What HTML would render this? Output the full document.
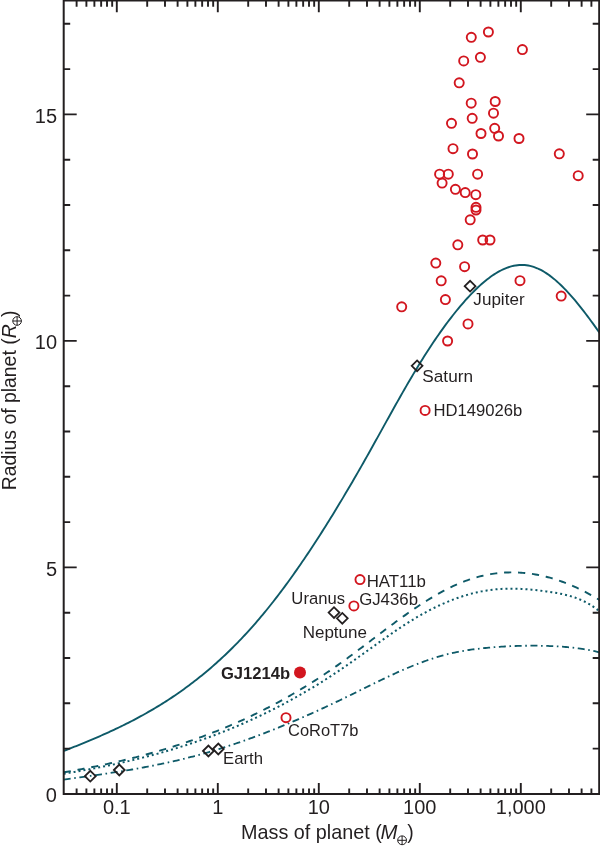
<!DOCTYPE html><html><head><meta charset="utf-8"><style>html,body{margin:0;padding:0;background:#fff}svg{display:block;will-change:transform}text{font-family:"Liberation Sans",sans-serif;fill:#231f20}</style></head><body>
<svg width="600" height="849" viewBox="0 0 600 849">
<rect width="600" height="849" fill="#fff"/>
<defs><clipPath id="c"><rect x="63.7" y="0" width="536.3" height="793.9"/></clipPath></defs>
<g clip-path="url(#c)" fill="none" stroke="#0e5a68">
<path d="M63.70,750.95 L65.49,750.25 L67.29,749.55 L69.08,748.85 L70.87,748.14 L72.67,747.43 L74.46,746.72 L76.26,746.01 L78.05,745.29 L79.84,744.56 L81.64,743.84 L83.43,743.10 L85.22,742.37 L87.02,741.63 L88.81,740.88 L90.60,740.13 L92.40,739.37 L94.19,738.61 L95.99,737.84 L97.78,737.07 L99.57,736.29 L101.37,735.50 L103.16,734.71 L104.95,733.91 L106.75,733.10 L108.54,732.29 L110.33,731.47 L112.13,730.64 L113.92,729.80 L115.72,728.96 L117.51,728.11 L119.30,727.25 L121.10,726.38 L122.89,725.50 L124.68,724.61 L126.48,723.72 L128.27,722.81 L130.06,721.90 L131.86,720.98 L133.65,720.04 L135.45,719.10 L137.24,718.15 L139.03,717.18 L140.83,716.21 L142.62,715.22 L144.41,714.23 L146.21,713.22 L148.00,712.20 L149.79,711.17 L151.59,710.13 L153.38,709.08 L155.18,708.01 L156.97,706.93 L158.76,705.84 L160.56,704.74 L162.35,703.62 L164.14,702.49 L165.94,701.35 L167.73,700.20 L169.53,699.03 L171.32,697.84 L173.11,696.64 L174.91,695.43 L176.70,694.21 L178.49,692.97 L180.29,691.71 L182.08,690.44 L183.87,689.15 L185.67,687.85 L187.46,686.53 L189.26,685.20 L191.05,683.85 L192.84,682.49 L194.64,681.11 L196.43,679.71 L198.22,678.30 L200.02,676.86 L201.81,675.41 L203.60,673.95 L205.40,672.47 L207.19,670.96 L208.99,669.45 L210.78,667.91 L212.57,666.35 L214.37,664.78 L216.16,663.19 L217.95,661.57 L219.75,659.94 L221.54,658.29 L223.33,656.62 L225.13,654.94 L226.92,653.23 L228.72,651.50 L230.51,649.75 L232.30,647.98 L234.10,646.19 L235.89,644.38 L237.68,642.55 L239.48,640.69 L241.27,638.82 L243.06,636.92 L244.86,635.01 L246.65,633.07 L248.45,631.10 L250.24,629.12 L252.03,627.11 L253.83,625.08 L255.62,623.03 L257.41,620.95 L259.21,618.86 L261.00,616.73 L262.79,614.59 L264.59,612.42 L266.38,610.23 L268.18,608.01 L269.97,605.77 L271.76,603.51 L273.56,601.23 L275.35,598.92 L277.14,596.60 L278.94,594.25 L280.73,591.88 L282.52,589.49 L284.32,587.08 L286.11,584.64 L287.91,582.19 L289.70,579.71 L291.49,577.22 L293.29,574.70 L295.08,572.17 L296.87,569.61 L298.67,567.04 L300.46,564.44 L302.25,561.83 L304.05,559.20 L305.84,556.55 L307.64,553.88 L309.43,551.19 L311.22,548.48 L313.02,545.76 L314.81,543.01 L316.60,540.25 L318.40,537.48 L320.19,534.68 L321.98,531.87 L323.78,529.04 L325.57,526.20 L327.37,523.34 L329.16,520.46 L330.95,517.56 L332.75,514.65 L334.54,511.73 L336.33,508.79 L338.13,505.83 L339.92,502.86 L341.72,499.87 L343.51,496.87 L345.30,493.86 L347.10,490.83 L348.89,487.78 L350.68,484.72 L352.48,481.65 L354.27,478.57 L356.06,475.47 L357.86,472.36 L359.65,469.23 L361.45,466.10 L363.24,462.95 L365.03,459.78 L366.83,456.61 L368.62,453.42 L370.41,450.22 L372.21,447.01 L374.00,443.80 L375.79,440.57 L377.59,437.34 L379.38,434.11 L381.18,430.87 L382.97,427.63 L384.76,424.39 L386.56,421.16 L388.35,417.92 L390.14,414.70 L391.94,411.48 L393.73,408.26 L395.52,405.06 L397.32,401.87 L399.11,398.69 L400.91,395.52 L402.70,392.37 L404.49,389.24 L406.29,386.12 L408.08,383.03 L409.87,379.96 L411.67,376.91 L413.46,373.88 L415.25,370.89 L417.05,367.92 L418.84,364.97 L420.64,362.06 L422.43,359.18 L424.22,356.33 L426.02,353.51 L427.81,350.73 L429.60,347.97 L431.40,345.25 L433.19,342.56 L434.98,339.90 L436.78,337.27 L438.57,334.68 L440.37,332.13 L442.16,329.61 L443.95,327.12 L445.75,324.68 L447.54,322.26 L449.33,319.89 L451.13,317.55 L452.92,315.25 L454.71,312.99 L456.51,310.76 L458.30,308.58 L460.10,306.43 L461.89,304.32 L463.68,302.26 L465.48,300.23 L467.27,298.25 L469.06,296.31 L470.86,294.41 L472.65,292.56 L474.44,290.75 L476.24,288.99 L478.03,287.29 L479.83,285.63 L481.62,284.02 L483.41,282.47 L485.21,280.98 L487.00,279.54 L488.79,278.16 L490.59,276.84 L492.38,275.58 L494.17,274.38 L495.97,273.25 L497.76,272.18 L499.56,271.18 L501.35,270.25 L503.14,269.39 L504.94,268.60 L506.73,267.88 L508.52,267.24 L510.32,266.67 L512.11,266.18 L513.91,265.77 L515.70,265.44 L517.49,265.20 L519.29,265.03 L521.08,264.95 L522.87,264.96 L524.67,265.05 L526.46,265.23 L528.25,265.51 L530.05,265.87 L531.84,266.33 L533.64,266.88 L535.43,267.52 L537.22,268.25 L539.02,269.06 L540.81,269.96 L542.60,270.93 L544.40,271.99 L546.19,273.13 L547.98,274.34 L549.78,275.62 L551.57,276.98 L553.37,278.40 L555.16,279.89 L556.95,281.45 L558.75,283.08 L560.54,284.76 L562.33,286.51 L564.13,288.31 L565.92,290.17 L567.71,292.08 L569.51,294.04 L571.30,296.06 L573.10,298.12 L574.89,300.23 L576.68,302.38 L578.48,304.58 L580.27,306.81 L582.06,309.08 L583.86,311.39 L585.65,313.73 L587.44,316.11 L589.24,318.52 L591.03,320.95 L592.83,323.41 L594.62,325.89 L596.41,328.40 L598.21,330.93 L600.00,333.47" stroke-width="1.9"/>
<path d="M63.70,772.30 L65.49,772.00 L67.29,771.69 L69.08,771.38 L70.87,771.07 L72.67,770.75 L74.46,770.43 L76.26,770.11 L78.05,769.78 L79.84,769.45 L81.64,769.12 L83.43,768.78 L85.22,768.44 L87.02,768.10 L88.81,767.75 L90.60,767.40 L92.40,767.04 L94.19,766.69 L95.99,766.32 L97.78,765.96 L99.57,765.59 L101.37,765.22 L103.16,764.84 L104.95,764.46 L106.75,764.07 L108.54,763.68 L110.33,763.29 L112.13,762.89 L113.92,762.49 L115.72,762.08 L117.51,761.67 L119.30,761.26 L121.10,760.84 L122.89,760.42 L124.68,759.99 L126.48,759.56 L128.27,759.12 L130.06,758.68 L131.86,758.23 L133.65,757.78 L135.45,757.33 L137.24,756.87 L139.03,756.40 L140.83,755.93 L142.62,755.46 L144.41,754.98 L146.21,754.49 L148.00,754.00 L149.79,753.51 L151.59,753.01 L153.38,752.50 L155.18,751.99 L156.97,751.48 L158.76,750.96 L160.56,750.43 L162.35,749.90 L164.14,749.37 L165.94,748.82 L167.73,748.28 L169.53,747.72 L171.32,747.16 L173.11,746.60 L174.91,746.03 L176.70,745.46 L178.49,744.87 L180.29,744.29 L182.08,743.69 L183.87,743.10 L185.67,742.49 L187.46,741.88 L189.26,741.26 L191.05,740.64 L192.84,740.01 L194.64,739.38 L196.43,738.74 L198.22,738.09 L200.02,737.44 L201.81,736.78 L203.60,736.11 L205.40,735.44 L207.19,734.76 L208.99,734.07 L210.78,733.38 L212.57,732.68 L214.37,731.98 L216.16,731.26 L217.95,730.54 L219.75,729.82 L221.54,729.09 L223.33,728.35 L225.13,727.60 L226.92,726.85 L228.72,726.09 L230.51,725.32 L232.30,724.55 L234.10,723.77 L235.89,722.98 L237.68,722.19 L239.48,721.38 L241.27,720.57 L243.06,719.76 L244.86,718.93 L246.65,718.10 L248.45,717.26 L250.24,716.41 L252.03,715.56 L253.83,714.70 L255.62,713.83 L257.41,712.95 L259.21,712.07 L261.00,711.17 L262.79,710.27 L264.59,709.37 L266.38,708.45 L268.18,707.53 L269.97,706.59 L271.76,705.65 L273.56,704.71 L275.35,703.75 L277.14,702.79 L278.94,701.81 L280.73,700.83 L282.52,699.85 L284.32,698.85 L286.11,697.84 L287.91,696.83 L289.70,695.81 L291.49,694.78 L293.29,693.74 L295.08,692.69 L296.87,691.63 L298.67,690.57 L300.46,689.49 L302.25,688.41 L304.05,687.32 L305.84,686.22 L307.64,685.11 L309.43,683.99 L311.22,682.87 L313.02,681.73 L314.81,680.59 L316.60,679.43 L318.40,678.27 L320.19,677.10 L321.98,675.91 L323.78,674.72 L325.57,673.52 L327.37,672.31 L329.16,671.10 L330.95,669.87 L332.75,668.63 L334.54,667.38 L336.33,666.13 L338.13,664.86 L339.92,663.58 L341.72,662.30 L343.51,661.01 L345.30,659.70 L347.10,658.40 L348.89,657.08 L350.68,655.76 L352.48,654.43 L354.27,653.10 L356.06,651.76 L357.86,650.42 L359.65,649.07 L361.45,647.72 L363.24,646.37 L365.03,645.01 L366.83,643.65 L368.62,642.30 L370.41,640.94 L372.21,639.58 L374.00,638.22 L375.79,636.86 L377.59,635.50 L379.38,634.15 L381.18,632.79 L382.97,631.44 L384.76,630.09 L386.56,628.75 L388.35,627.41 L390.14,626.07 L391.94,624.74 L393.73,623.42 L395.52,622.10 L397.32,620.79 L399.11,619.48 L400.91,618.19 L402.70,616.90 L404.49,615.62 L406.29,614.35 L408.08,613.09 L409.87,611.84 L411.67,610.60 L413.46,609.37 L415.25,608.15 L417.05,606.95 L418.84,605.76 L420.64,604.58 L422.43,603.42 L424.22,602.27 L426.02,601.13 L427.81,600.01 L429.60,598.91 L431.40,597.82 L433.19,596.75 L434.98,595.70 L436.78,594.66 L438.57,593.64 L440.37,592.64 L442.16,591.66 L443.95,590.71 L445.75,589.77 L447.54,588.85 L449.33,587.95 L451.13,587.08 L452.92,586.23 L454.71,585.40 L456.51,584.59 L458.30,583.81 L460.10,583.05 L461.89,582.32 L463.68,581.61 L465.48,580.93 L467.27,580.27 L469.06,579.65 L470.86,579.04 L472.65,578.47 L474.44,577.92 L476.24,577.40 L478.03,576.90 L479.83,576.43 L481.62,575.99 L483.41,575.57 L485.21,575.18 L487.00,574.82 L488.79,574.48 L490.59,574.17 L492.38,573.88 L494.17,573.61 L495.97,573.38 L497.76,573.17 L499.56,572.98 L501.35,572.82 L503.14,572.68 L504.94,572.57 L506.73,572.49 L508.52,572.43 L510.32,572.39 L512.11,572.38 L513.91,572.39 L515.70,572.43 L517.49,572.49 L519.29,572.58 L521.08,572.69 L522.87,572.83 L524.67,572.99 L526.46,573.17 L528.25,573.38 L530.05,573.61 L531.84,573.86 L533.64,574.14 L535.43,574.44 L537.22,574.77 L539.02,575.12 L540.81,575.49 L542.60,575.89 L544.40,576.31 L546.19,576.75 L547.98,577.22 L549.78,577.70 L551.57,578.21 L553.37,578.75 L555.16,579.31 L556.95,579.88 L558.75,580.49 L560.54,581.11 L562.33,581.76 L564.13,582.43 L565.92,583.12 L567.71,583.83 L569.51,584.56 L571.30,585.32 L573.10,586.10 L574.89,586.90 L576.68,587.72 L578.48,588.57 L580.27,589.43 L582.06,590.32 L583.86,591.23 L585.65,592.16 L587.44,593.11 L589.24,594.08 L591.03,595.07 L592.83,596.08 L594.62,597.12 L596.41,598.17 L598.21,599.25 L600.00,600.35" stroke-width="1.9" stroke-dasharray="7.2 6.8"/>
<path d="M63.70,773.69 L65.49,773.40 L67.29,773.11 L69.08,772.82 L70.87,772.52 L72.67,772.22 L74.46,771.92 L76.26,771.61 L78.05,771.30 L79.84,770.99 L81.64,770.67 L83.43,770.35 L85.22,770.03 L87.02,769.70 L88.81,769.37 L90.60,769.04 L92.40,768.70 L94.19,768.36 L95.99,768.02 L97.78,767.67 L99.57,767.32 L101.37,766.96 L103.16,766.60 L104.95,766.24 L106.75,765.87 L108.54,765.50 L110.33,765.13 L112.13,764.75 L113.92,764.36 L115.72,763.98 L117.51,763.59 L119.30,763.19 L121.10,762.79 L122.89,762.39 L124.68,761.98 L126.48,761.56 L128.27,761.15 L130.06,760.73 L131.86,760.30 L133.65,759.87 L135.45,759.43 L137.24,759.00 L139.03,758.55 L140.83,758.10 L142.62,757.65 L144.41,757.19 L146.21,756.73 L148.00,756.26 L149.79,755.79 L151.59,755.31 L153.38,754.83 L155.18,754.34 L156.97,753.85 L158.76,753.35 L160.56,752.85 L162.35,752.34 L164.14,751.82 L165.94,751.31 L167.73,750.78 L169.53,750.25 L171.32,749.72 L173.11,749.18 L174.91,748.64 L176.70,748.09 L178.49,747.53 L180.29,746.97 L182.08,746.40 L183.87,745.83 L185.67,745.25 L187.46,744.67 L189.26,744.08 L191.05,743.48 L192.84,742.88 L194.64,742.27 L196.43,741.66 L198.22,741.04 L200.02,740.42 L201.81,739.79 L203.60,739.15 L205.40,738.51 L207.19,737.86 L208.99,737.20 L210.78,736.54 L212.57,735.88 L214.37,735.20 L216.16,734.52 L217.95,733.84 L219.75,733.14 L221.54,732.44 L223.33,731.74 L225.13,731.03 L226.92,730.31 L228.72,729.58 L230.51,728.85 L232.30,728.11 L234.10,727.37 L235.89,726.61 L237.68,725.86 L239.48,725.09 L241.27,724.32 L243.06,723.54 L244.86,722.75 L246.65,721.96 L248.45,721.16 L250.24,720.35 L252.03,719.53 L253.83,718.71 L255.62,717.88 L257.41,717.05 L259.21,716.20 L261.00,715.35 L262.79,714.50 L264.59,713.63 L266.38,712.76 L268.18,711.88 L269.97,710.99 L271.76,710.09 L273.56,709.19 L275.35,708.28 L277.14,707.36 L278.94,706.44 L280.73,705.50 L282.52,704.56 L284.32,703.61 L286.11,702.66 L287.91,701.69 L289.70,700.72 L291.49,699.74 L293.29,698.75 L295.08,697.75 L296.87,696.75 L298.67,695.73 L300.46,694.71 L302.25,693.68 L304.05,692.64 L305.84,691.60 L307.64,690.54 L309.43,689.48 L311.22,688.41 L313.02,687.33 L314.81,686.24 L316.60,685.15 L318.40,684.04 L320.19,682.93 L321.98,681.81 L323.78,680.67 L325.57,679.53 L327.37,678.39 L329.16,677.23 L330.95,676.06 L332.75,674.89 L334.54,673.70 L336.33,672.51 L338.13,671.31 L339.92,670.10 L341.72,668.88 L343.51,667.65 L345.30,666.41 L347.10,665.17 L348.89,663.91 L350.68,662.66 L352.48,661.39 L354.27,660.12 L356.06,658.85 L357.86,657.57 L359.65,656.29 L361.45,655.00 L363.24,653.72 L365.03,652.43 L366.83,651.14 L368.62,649.85 L370.41,648.56 L372.21,647.27 L374.00,645.99 L375.79,644.70 L377.59,643.42 L379.38,642.14 L381.18,640.87 L382.97,639.60 L384.76,638.33 L386.56,637.07 L388.35,635.82 L390.14,634.58 L391.94,633.34 L393.73,632.11 L395.52,630.89 L397.32,629.68 L399.11,628.48 L400.91,627.29 L402.70,626.11 L404.49,624.94 L406.29,623.79 L408.08,622.65 L409.87,621.52 L411.67,620.41 L413.46,619.31 L415.25,618.23 L417.05,617.17 L418.84,616.12 L420.64,615.09 L422.43,614.07 L424.22,613.08 L426.02,612.10 L427.81,611.14 L429.60,610.20 L431.40,609.28 L433.19,608.37 L434.98,607.48 L436.78,606.62 L438.57,605.77 L440.37,604.94 L442.16,604.13 L443.95,603.33 L445.75,602.56 L447.54,601.81 L449.33,601.07 L451.13,600.36 L452.92,599.67 L454.71,598.99 L456.51,598.34 L458.30,597.70 L460.10,597.09 L461.89,596.50 L463.68,595.93 L465.48,595.38 L467.27,594.85 L469.06,594.34 L470.86,593.85 L472.65,593.38 L474.44,592.94 L476.24,592.52 L478.03,592.12 L479.83,591.74 L481.62,591.38 L483.41,591.04 L485.21,590.73 L487.00,590.44 L488.79,590.17 L490.59,589.93 L492.38,589.71 L494.17,589.51 L495.97,589.33 L497.76,589.18 L499.56,589.04 L501.35,588.93 L503.14,588.83 L504.94,588.76 L506.73,588.71 L508.52,588.67 L510.32,588.65 L512.11,588.65 L513.91,588.67 L515.70,588.70 L517.49,588.75 L519.29,588.82 L521.08,588.90 L522.87,589.00 L524.67,589.11 L526.46,589.23 L528.25,589.37 L530.05,589.52 L531.84,589.69 L533.64,589.86 L535.43,590.05 L537.22,590.25 L539.02,590.46 L540.81,590.68 L542.60,590.91 L544.40,591.15 L546.19,591.39 L547.98,591.65 L549.78,591.91 L551.57,592.18 L553.37,592.46 L555.16,592.75 L556.95,593.06 L558.75,593.38 L560.54,593.73 L562.33,594.09 L564.13,594.49 L565.92,594.91 L567.71,595.36 L569.51,595.84 L571.30,596.36 L573.10,596.92 L574.89,597.52 L576.68,598.17 L578.48,598.86 L580.27,599.60 L582.06,600.39 L583.86,601.24 L585.65,602.14 L587.44,603.11 L589.24,604.13 L591.03,605.23 L592.83,606.38 L594.62,607.61 L596.41,608.92 L598.21,610.30 L600.00,611.76" stroke-width="2" stroke-dasharray="2 3"/>
<path d="M63.70,779.57 L65.49,779.33 L67.29,779.08 L69.08,778.84 L70.87,778.60 L72.67,778.35 L74.46,778.11 L76.26,777.86 L78.05,777.62 L79.84,777.37 L81.64,777.12 L83.43,776.87 L85.22,776.63 L87.02,776.37 L88.81,776.12 L90.60,775.87 L92.40,775.62 L94.19,775.36 L95.99,775.10 L97.78,774.84 L99.57,774.58 L101.37,774.32 L103.16,774.05 L104.95,773.79 L106.75,773.52 L108.54,773.25 L110.33,772.97 L112.13,772.70 L113.92,772.42 L115.72,772.14 L117.51,771.86 L119.30,771.57 L121.10,771.28 L122.89,770.99 L124.68,770.70 L126.48,770.40 L128.27,770.10 L130.06,769.80 L131.86,769.49 L133.65,769.18 L135.45,768.86 L137.24,768.55 L139.03,768.23 L140.83,767.90 L142.62,767.57 L144.41,767.24 L146.21,766.91 L148.00,766.57 L149.79,766.22 L151.59,765.88 L153.38,765.52 L155.18,765.17 L156.97,764.80 L158.76,764.44 L160.56,764.07 L162.35,763.69 L164.14,763.31 L165.94,762.93 L167.73,762.54 L169.53,762.15 L171.32,761.75 L173.11,761.34 L174.91,760.93 L176.70,760.52 L178.49,760.10 L180.29,759.67 L182.08,759.24 L183.87,758.80 L185.67,758.36 L187.46,757.91 L189.26,757.45 L191.05,756.99 L192.84,756.52 L194.64,756.05 L196.43,755.57 L198.22,755.08 L200.02,754.59 L201.81,754.09 L203.60,753.59 L205.40,753.08 L207.19,752.56 L208.99,752.04 L210.78,751.51 L212.57,750.98 L214.37,750.44 L216.16,749.89 L217.95,749.34 L219.75,748.78 L221.54,748.22 L223.33,747.65 L225.13,747.08 L226.92,746.50 L228.72,745.91 L230.51,745.32 L232.30,744.73 L234.10,744.13 L235.89,743.52 L237.68,742.91 L239.48,742.29 L241.27,741.67 L243.06,741.04 L244.86,740.40 L246.65,739.76 L248.45,739.12 L250.24,738.47 L252.03,737.82 L253.83,737.16 L255.62,736.49 L257.41,735.82 L259.21,735.15 L261.00,734.47 L262.79,733.78 L264.59,733.10 L266.38,732.40 L268.18,731.70 L269.97,731.00 L271.76,730.29 L273.56,729.58 L275.35,728.86 L277.14,728.14 L278.94,727.41 L280.73,726.68 L282.52,725.94 L284.32,725.20 L286.11,724.46 L287.91,723.71 L289.70,722.95 L291.49,722.20 L293.29,721.43 L295.08,720.67 L296.87,719.90 L298.67,719.12 L300.46,718.34 L302.25,717.56 L304.05,716.77 L305.84,715.98 L307.64,715.18 L309.43,714.38 L311.22,713.58 L313.02,712.77 L314.81,711.96 L316.60,711.15 L318.40,710.33 L320.19,709.50 L321.98,708.68 L323.78,707.85 L325.57,707.01 L327.37,706.18 L329.16,705.33 L330.95,704.49 L332.75,703.64 L334.54,702.79 L336.33,701.93 L338.13,701.07 L339.92,700.21 L341.72,699.35 L343.51,698.48 L345.30,697.60 L347.10,696.73 L348.89,695.85 L350.68,694.97 L352.48,694.09 L354.27,693.20 L356.06,692.32 L357.86,691.43 L359.65,690.54 L361.45,689.65 L363.24,688.77 L365.03,687.88 L366.83,686.99 L368.62,686.11 L370.41,685.23 L372.21,684.35 L374.00,683.47 L375.79,682.59 L377.59,681.72 L379.38,680.85 L381.18,679.99 L382.97,679.12 L384.76,678.27 L386.56,677.42 L388.35,676.57 L390.14,675.73 L391.94,674.90 L393.73,674.07 L395.52,673.25 L397.32,672.44 L399.11,671.64 L400.91,670.84 L402.70,670.05 L404.49,669.27 L406.29,668.50 L408.08,667.74 L409.87,666.99 L411.67,666.25 L413.46,665.52 L415.25,664.80 L417.05,664.10 L418.84,663.40 L420.64,662.72 L422.43,662.05 L424.22,661.39 L426.02,660.75 L427.81,660.12 L429.60,659.50 L431.40,658.90 L433.19,658.32 L434.98,657.74 L436.78,657.19 L438.57,656.65 L440.37,656.13 L442.16,655.62 L443.95,655.13 L445.75,654.66 L447.54,654.20 L449.33,653.77 L451.13,653.35 L452.92,652.94 L454.71,652.56 L456.51,652.19 L458.30,651.83 L460.10,651.49 L461.89,651.16 L463.68,650.85 L465.48,650.55 L467.27,650.26 L469.06,649.99 L470.86,649.72 L472.65,649.47 L474.44,649.23 L476.24,649.00 L478.03,648.79 L479.83,648.58 L481.62,648.38 L483.41,648.19 L485.21,648.01 L487.00,647.83 L488.79,647.67 L490.59,647.51 L492.38,647.36 L494.17,647.22 L495.97,647.08 L497.76,646.95 L499.56,646.82 L501.35,646.70 L503.14,646.59 L504.94,646.49 L506.73,646.39 L508.52,646.29 L510.32,646.21 L512.11,646.13 L513.91,646.06 L515.70,645.99 L517.49,645.93 L519.29,645.88 L521.08,645.83 L522.87,645.79 L524.67,645.76 L526.46,645.74 L528.25,645.72 L530.05,645.70 L531.84,645.70 L533.64,645.70 L535.43,645.71 L537.22,645.72 L539.02,645.75 L540.81,645.78 L542.60,645.81 L544.40,645.85 L546.19,645.90 L547.98,645.96 L549.78,646.03 L551.57,646.10 L553.37,646.18 L555.16,646.26 L556.95,646.36 L558.75,646.47 L560.54,646.58 L562.33,646.71 L564.13,646.85 L565.92,646.99 L567.71,647.15 L569.51,647.32 L571.30,647.51 L573.10,647.70 L574.89,647.91 L576.68,648.14 L578.48,648.37 L580.27,648.62 L582.06,648.89 L583.86,649.17 L585.65,649.47 L587.44,649.78 L589.24,650.11 L591.03,650.46 L592.83,650.83 L594.62,651.21 L596.41,651.61 L598.21,652.03 L600.00,652.47" stroke-width="1.8" stroke-dasharray="7 3.6 1.6 3.6"/>
</g>
<g stroke="#231f20" stroke-width="2" fill="none">
<path d="M63.7,0 V793.9 H600"/>
<path d="M63.7,0.6 H599.2 V793.9"/>
<path d="M76.61,793.9 V788.40 M76.61,0 V6.70 M86.40,793.9 V788.40 M86.40,0 V6.70 M94.39,793.9 V788.40 M94.39,0 V6.70 M101.15,793.9 V788.40 M101.15,0 V6.70 M107.01,793.9 V788.40 M107.01,0 V6.70 M112.18,793.9 V788.40 M112.18,0 V6.70 M116.80,793.9 V782.90 M116.80,0 V12.20 M147.20,793.9 V788.40 M147.20,0 V6.70 M164.99,793.9 V788.40 M164.99,0 V6.70 M177.61,793.9 V788.40 M177.61,0 V6.70 M187.40,793.9 V788.40 M187.40,0 V6.70 M195.39,793.9 V788.40 M195.39,0 V6.70 M202.15,793.9 V788.40 M202.15,0 V6.70 M208.01,793.9 V788.40 M208.01,0 V6.70 M213.18,793.9 V788.40 M213.18,0 V6.70 M217.80,793.9 V782.90 M217.80,0 V12.20 M248.20,793.9 V788.40 M248.20,0 V6.70 M265.99,793.9 V788.40 M265.99,0 V6.70 M278.61,793.9 V788.40 M278.61,0 V6.70 M288.40,793.9 V788.40 M288.40,0 V6.70 M296.39,793.9 V788.40 M296.39,0 V6.70 M303.15,793.9 V788.40 M303.15,0 V6.70 M309.01,793.9 V788.40 M309.01,0 V6.70 M314.18,793.9 V788.40 M314.18,0 V6.70 M318.80,793.9 V782.90 M318.80,0 V12.20 M349.20,793.9 V788.40 M349.20,0 V6.70 M366.99,793.9 V788.40 M366.99,0 V6.70 M379.61,793.9 V788.40 M379.61,0 V6.70 M389.40,793.9 V788.40 M389.40,0 V6.70 M397.39,793.9 V788.40 M397.39,0 V6.70 M404.15,793.9 V788.40 M404.15,0 V6.70 M410.01,793.9 V788.40 M410.01,0 V6.70 M415.18,793.9 V788.40 M415.18,0 V6.70 M419.80,793.9 V782.90 M419.80,0 V12.20 M450.20,793.9 V788.40 M450.20,0 V6.70 M467.99,793.9 V788.40 M467.99,0 V6.70 M480.61,793.9 V788.40 M480.61,0 V6.70 M490.40,793.9 V788.40 M490.40,0 V6.70 M498.39,793.9 V788.40 M498.39,0 V6.70 M505.15,793.9 V788.40 M505.15,0 V6.70 M511.01,793.9 V788.40 M511.01,0 V6.70 M516.18,793.9 V788.40 M516.18,0 V6.70 M520.80,793.9 V782.90 M520.80,0 V12.20 M551.20,793.9 V788.40 M551.20,0 V6.70 M568.99,793.9 V788.40 M568.99,0 V6.70 M581.61,793.9 V788.40 M581.61,0 V6.70 M591.40,793.9 V788.40 M591.40,0 V6.70 M63.7,748.60 H70.20 M599.2,748.60 H592.70 M63.7,703.30 H70.20 M599.2,703.30 H592.70 M63.7,658.00 H70.20 M599.2,658.00 H592.70 M63.7,612.70 H70.20 M599.2,612.70 H592.70 M63.7,567.40 H76.70 M599.2,567.40 H586.20 M63.7,522.10 H70.20 M599.2,522.10 H592.70 M63.7,476.80 H70.20 M599.2,476.80 H592.70 M63.7,431.50 H70.20 M599.2,431.50 H592.70 M63.7,386.20 H70.20 M599.2,386.20 H592.70 M63.7,340.90 H76.70 M599.2,340.90 H586.20 M63.7,295.60 H70.20 M599.2,295.60 H592.70 M63.7,250.30 H70.20 M599.2,250.30 H592.70 M63.7,205.00 H70.20 M599.2,205.00 H592.70 M63.7,159.70 H70.20 M599.2,159.70 H592.70 M63.7,114.40 H76.70 M599.2,114.40 H586.20 M63.7,69.10 H70.20 M599.2,69.10 H592.70 M63.7,23.80 H70.20 M599.2,23.80 H592.70" stroke-width="1.9"/>
</g>
<g fill="none" stroke="#d2161f" stroke-width="1.9">
<circle cx="471.3" cy="37.3" r="4.55"/>
<circle cx="488.4" cy="32.0" r="4.55"/>
<circle cx="522.4" cy="49.6" r="4.55"/>
<circle cx="463.7" cy="60.9" r="4.55"/>
<circle cx="480.4" cy="57.3" r="4.55"/>
<circle cx="459.2" cy="82.8" r="4.55"/>
<circle cx="471.2" cy="103.2" r="4.55"/>
<circle cx="495.2" cy="101.5" r="4.55"/>
<circle cx="493.5" cy="113.2" r="4.55"/>
<circle cx="472.2" cy="118.3" r="4.55"/>
<circle cx="451.5" cy="123.3" r="4.55"/>
<circle cx="494.7" cy="128.3" r="4.55"/>
<circle cx="481.0" cy="133.5" r="4.55"/>
<circle cx="498.5" cy="136.0" r="4.55"/>
<circle cx="519.0" cy="138.5" r="4.55"/>
<circle cx="453.0" cy="148.7" r="4.55"/>
<circle cx="472.5" cy="154.0" r="4.55"/>
<circle cx="559.3" cy="153.8" r="4.55"/>
<circle cx="578.2" cy="175.7" r="4.55"/>
<circle cx="439.6" cy="174.2" r="4.55"/>
<circle cx="448.3" cy="174.2" r="4.55"/>
<circle cx="477.6" cy="174.2" r="4.55"/>
<circle cx="442.1" cy="183.1" r="4.55"/>
<circle cx="455.4" cy="189.3" r="4.55"/>
<circle cx="465.2" cy="192.6" r="4.55"/>
<circle cx="475.8" cy="194.7" r="4.55"/>
<circle cx="476.0" cy="207.3" r="4.55"/>
<circle cx="476.0" cy="210.0" r="4.55"/>
<circle cx="470.2" cy="219.8" r="4.55"/>
<circle cx="457.8" cy="244.8" r="4.55"/>
<circle cx="482.7" cy="240.0" r="4.55"/>
<circle cx="490.0" cy="240.0" r="4.55"/>
<circle cx="435.8" cy="263.1" r="4.55"/>
<circle cx="464.6" cy="266.7" r="4.55"/>
<circle cx="441.2" cy="280.8" r="4.55"/>
<circle cx="445.4" cy="299.6" r="4.55"/>
<circle cx="401.7" cy="306.8" r="4.55"/>
<circle cx="468.0" cy="323.9" r="4.55"/>
<circle cx="447.6" cy="341.0" r="4.55"/>
<circle cx="520.0" cy="280.7" r="4.55"/>
<circle cx="561.2" cy="296.1" r="4.55"/>
<circle cx="425.1" cy="410.4" r="4.55"/>
<circle cx="360.0" cy="579.6" r="4.55"/>
<circle cx="353.9" cy="605.9" r="4.55"/>
<circle cx="286.0" cy="717.7" r="4.55"/>
</g>
<circle cx="300" cy="672.5" r="6" fill="#d2161f"/>
<g fill="none" stroke="#231f20" stroke-width="1.8">
<path d="M84.89999999999999,776.2 L90.3,770.8000000000001 L95.7,776.2 L90.3,781.6 Z"/>
<path d="M113.89999999999999,770.0 L119.3,764.6 L124.7,770.0 L119.3,775.4 Z"/>
<path d="M203.0,751.0 L208.4,745.6 L213.8,751.0 L208.4,756.4 Z"/>
<path d="M212.9,749.0 L218.3,743.6 L223.70000000000002,749.0 L218.3,754.4 Z"/>
<path d="M328.6,612.6 L334.0,607.2 L339.4,612.6 L334.0,618.0 Z"/>
<path d="M336.90000000000003,618.3 L342.3,612.9 L347.7,618.3 L342.3,623.6999999999999 Z"/>
<path d="M411.70000000000005,365.8 L417.1,360.40000000000003 L422.5,365.8 L417.1,371.2 Z"/>
<path d="M464.70000000000005,286.2 L470.1,280.8 L475.5,286.2 L470.1,291.59999999999997 Z"/>
</g>
<text transform="translate(473.70,305.20) scale(1.0278,1)" x="-0.33" y="0" font-size="16.6">Jupiter</text>
<text transform="translate(423.20,382.00) scale(1.0367,1)" x="-0.83" y="0" font-size="16.6">Saturn</text>
<text transform="translate(434.80,416.00) scale(1.0034,1)" x="-1.33" y="0" font-size="16.6">HD149026b</text>
<text transform="translate(368.00,587.00) scale(1.0152,1)" x="-1.33" y="0" font-size="16.6">HAT11b</text>
<text transform="translate(360.00,605.00) scale(1.0123,1)" x="-0.83" y="0" font-size="16.6">GJ436b</text>
<text transform="translate(292.70,603.50) scale(1.0034,1)" x="-1.33" y="0" font-size="16.6">Uranus</text>
<text transform="translate(304.00,637.80) scale(1.0254,1)" x="-1.33" y="0" font-size="16.6">Neptune</text>
<text transform="translate(288.80,736.30) scale(0.9935,1)" x="-0.83" y="0" font-size="16.6">CoRoT7b</text>
<text transform="translate(224.40,763.60) scale(1.0067,1)" x="-1.33" y="0" font-size="16.6">Earth</text>
<text transform="translate(221.60,678.80) scale(1.0016,1)" x="-0.66" y="0" font-size="16.6" font-weight="bold">GJ1214b</text>
<text x="45.80" y="802.00" font-size="20">0</text>
<text x="46.00" y="575.50" font-size="20">5</text>
<text x="34.80" y="349.00" font-size="20">10</text>
<text x="34.80" y="122.50" font-size="20">15</text>
<text x="116.80" y="814.3" font-size="20" text-anchor="middle">0.1</text>
<text x="217.80" y="814.3" font-size="20" text-anchor="middle">1</text>
<text x="318.80" y="814.3" font-size="20" text-anchor="middle">10</text>
<text x="419.80" y="814.3" font-size="20" text-anchor="middle">100</text>
<text x="520.80" y="814.3" font-size="20" text-anchor="middle">1,000</text>
<text x="241.12" y="839" font-size="19.8">Mass of planet (</text>
<text transform="translate(380.6,839) scale(1.05,1)" x="-0.2" y="0" font-size="19.4" font-style="italic">M</text>
<g fill="none" stroke="#231f20" stroke-width="1"><circle cx="402.1" cy="840.3" r="4.4"/><path d="M397.70000000000005,840.3 H406.5 M402.1,835.9 V844.6999999999999"/></g>
<text x="407.3" y="839" font-size="19.4">)</text>
<g transform="translate(15.9,0) rotate(-90)">
<text x="-490.35" y="0" font-size="19.4">Radius of planet (<tspan font-style="italic">R</tspan></text>
<text x="-316.9" y="0" font-size="19.4">)</text>
</g>
<g fill="none" stroke="#231f20" stroke-width="1"><circle cx="17.1" cy="321.0" r="4.3"/><path d="M12.8,321.0 H21.400000000000002 M17.1,316.7 V325.3"/></g>
</svg></body></html>
